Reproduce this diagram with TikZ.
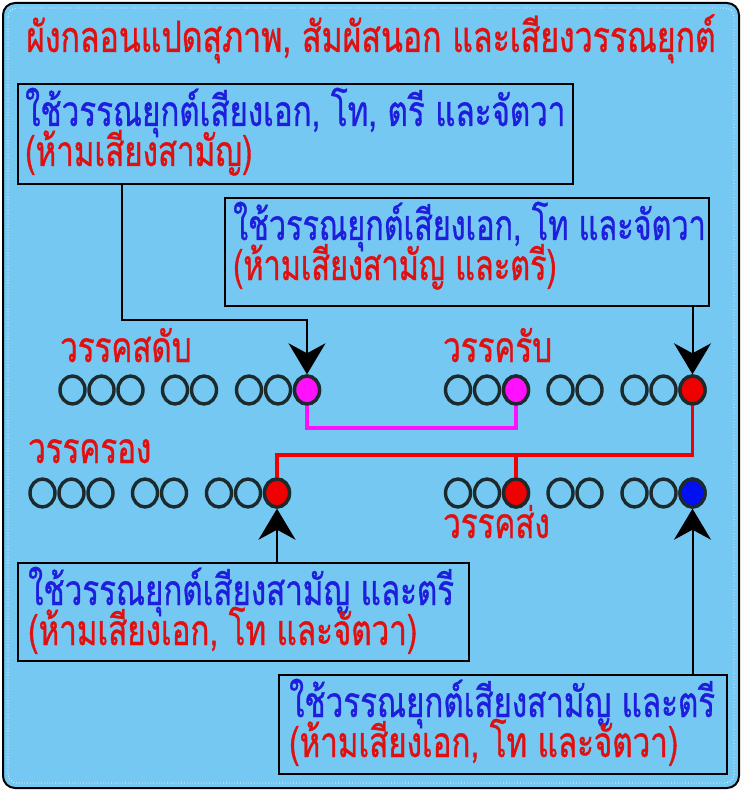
\documentclass[tikz,border=0pt]{standalone}
\usepackage{fontspec}
\newfontfamily\thai[Script=Thai, FakeStretch=0.737, FakeBold=0.8]{Loma}
\newfontfamily\thainarrow[Script=Thai, FakeStretch=0.72, FakeBold=0.8]{Loma}
\newfontfamily\thaititle[Script=Thai, FakeStretch=0.745, FakeBold=0.8]{Loma}
\usetikzlibrary{arrows.meta,shapes.geometric}
\definecolor{bg}{HTML}{74C8F2}
\definecolor{tred}{HTML}{E01010}
\definecolor{tblue}{HTML}{1E1EDC}
\definecolor{ringc}{HTML}{1C2A2C}
\definecolor{magc}{HTML}{FF10FF}
\definecolor{fred}{HTML}{F00000}
\definecolor{fblue}{HTML}{0010F0}
\begin{document}
\begin{tikzpicture}[x=1pt,y=-1pt,
  txt/.style={anchor=base west, inner sep=0pt, font=\thai\fontsize{42.5}{50}\selectfont},
  narrow/.style={font=\thainarrow\fontsize{42.5}{50}\selectfont},
  bl/.style={txt, text=tblue},
  rd/.style={txt, text=tred},
  box/.style={draw=black, line width=2.2pt, anchor=north west, inner sep=0pt},
  ring/.style={ellipse, draw=ringc, line width=3.4pt, minimum width=25pt, minimum height=28pt, inner sep=0pt},
  conn/.style={line width=2pt, draw=black, -{Stealth[length=31pt,width=37pt,inset=10pt]}},
  magline/.style={line width=3.5pt, draw=magc},
  redline/.style={line width=3.5pt, draw=fred}]
\useasboundingbox (0,0) rectangle (742,791);
\fill[white] (0,0) rectangle (742,791);
\draw[line width=2pt, fill=bg, rounded corners=12pt] (3,3) rectangle (739,788);
\draw[white, line width=0.8pt, dotted, rounded corners=9pt] (8,8) rectangle (734,783);

% title
\node[anchor=base, inner sep=0pt, text=tred, font=\thaititle\fontsize{43}{50}\selectfont] (title) at (371,52) {ผังกลอนแปดสุภาพ, สัมผัสนอก และเสียงวรรณยุกต์};

% boxes
\node[box, minimum width=555pt, minimum height=100pt] (box1) at (17,83) {};
\node[box, minimum width=484pt, minimum height=108pt] (box2) at (224,197) {};
\node[box, minimum width=451pt, minimum height=98pt] (box3) at (17,562) {};
\node[box, minimum width=448pt, minimum height=99pt] (box4) at (278,674) {};

\node[bl] (t1a) at (25,126) {ใช้วรรณยุกต์เสียงเอก, โท, ตรี และจัตวา};
\node[rd] (t1b) at (25,166) {(ห้ามเสียงสามัญ)};
\node[bl, narrow] (t2a) at (233,240) {ใช้วรรณยุกต์เสียงเอก, โท และจัตวา};
\node[rd, narrow] (t2b) at (233,280) {(ห้ามเสียงสามัญ และตรี)};
\node[bl] (t3a) at (28,605) {ใช้วรรณยุกต์เสียงสามัญ และตรี};
\node[rd] (t3b) at (28,645) {(ห้ามเสียงเอก, โท และจัตวา)};
\node[bl] (t4a) at (289,717) {ใช้วรรณยุกต์เสียงสามัญ และตรี};
\node[rd] (t4b) at (289,757) {(ห้ามเสียงเอก, โท และจัตวา)};

% labels
\node[rd] (l1) at (60,362) {วรรคสดับ};
\node[rd] (l2) at (443,362) {วรรครับ};
\node[rd] (l3) at (28,463) {วรรครอง};
\node[rd] (l4) at (443,538) {วรรคส่ง};

% circles
\foreach \r/\x/\y in {a/72.5/390, b/458/390, c/42.5/493, d/458/493}{
  \foreach \i/\o in {1/0,2/29,3/58,4/102.5,5/131.5,6/176.5,7/205.5,8/234.5}{
    \node[ring] (\r\i) at (\x+\o,\y) {};
  }
}
\node[ring, fill=magc] (a8) at (307,390) {};
\node[ring, fill=magc] (b3) at (516,390) {};
\node[ring, fill=fred] (b8) at (692.5,390) {};
\node[ring, fill=fred] (c8) at (277,493) {};
\node[ring, fill=fred] (d3) at (516,493) {};
\node[ring, fill=fblue] (d8) at (692.5,493) {};

% coloured links
\coordinate (mg) at (0,428);
\coordinate (rl) at (0,455);
\draw[magline] (a8.south) -- (a8.south |- mg) -| (b3.south);
\draw[redline] (b8.south) -- (b8.south |- rl) -| (c8.north);
\draw[redline] (d3.north) -- (d3.north |- rl);

% arrows
\coordinate (k1) at (122,320);
\draw[conn] (box1.south -| k1) -- (k1) -| (a8.north);
\draw[conn] (box2.south -| b8) -- (b8.north);
\draw[conn] (box3.north -| c8) -- (c8.south);
\draw[conn] (box4.north -| d8) -- (d8.south);
\end{tikzpicture}
\end{document}
